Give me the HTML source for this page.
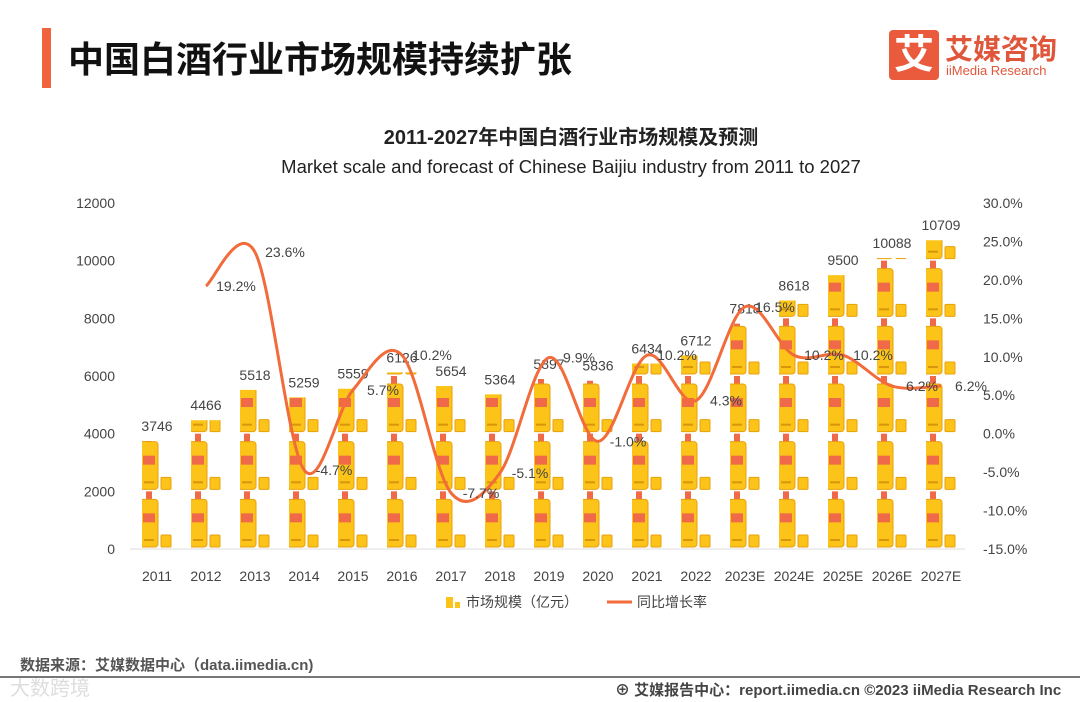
<!DOCTYPE html>
<html><head><meta charset="utf-8"><style>
body{margin:0;width:1080px;height:702px;background:#fff;overflow:hidden;font-family:"Liberation Sans","Noto Sans CJK SC",sans-serif;position:relative}
.abs{position:absolute}
</style></head><body>
<div class="abs" style="left:42px;top:28px;width:9px;height:60px;background:#f0643c"></div>
<div class="abs" style="left:68px;top:31px;font-size:36px;font-weight:bold;color:#111">中国白酒行业市场规模持续扩张</div>
<div class="abs" style="left:889px;top:30px;width:50px;height:50px;background:#ea5a3c;border-radius:4px;color:#fff;font-size:40px;font-weight:bold;text-align:center;line-height:50px">艾</div>
<div class="abs" style="left:945px;top:28px;font-size:28px;font-weight:bold;color:#e0563a">艾媒咨询</div>
<div class="abs" style="left:946px;top:63px;font-size:13px;color:#e0563a">iiMedia Research</div>
<div class="abs" style="left:0;width:1142px;top:121px;text-align:center;font-size:20px;font-weight:bold;color:#222">2011-2027年中国白酒行业市场规模及预测</div>
<div class="abs" style="left:0;width:1142px;top:156px;text-align:center;font-size:18.5px;color:#222">Market scale and forecast of Chinese Baijiu industry from 2011 to 2027</div>
<svg class="abs" style="left:0;top:0" width="1080" height="702">
<g id="g"></g>
</svg>
<div class="abs" style="left:20px;top:654px;font-size:15px;font-weight:bold;color:#555">数据来源：艾媒数据中心（data.iimedia.cn)</div>
<div class="abs" style="left:0;top:676px;width:1080px;height:2px;background:#777"></div>
<div class="abs" style="left:10px;top:672px;font-size:20px;color:#ddd">大数跨境</div>
<div class="abs" style="left:615px;top:679px;font-size:15px;font-weight:bold;color:#444;white-space:nowrap">⊕ 艾媒报告中心：report.iimedia.cn  ©2023  iiMedia Research  Inc</div>
<script>
const categories=["2011","2012","2013","2014","2015","2016","2017","2018","2019","2020","2021","2022","2023E","2024E","2025E","2026E","2027E"];
const marketSize=[3746,4466,5518,5259,5559,6126,5654,5364,5897,5836,6434,6712,7818,8618,9500,10088,10709];
const growth=[null,19.2,23.6,-4.7,5.7,10.2,-7.7,-5.1,9.9,-1.0,10.2,4.3,16.5,10.2,10.2,6.2,6.2];
const leftTicks=[0,2000,4000,6000,8000,10000,12000];
const rightTicks=[-15,-10,-5,0,5,10,15,20,25,30];
const NS="http://www.w3.org/2000/svg",g=document.getElementById('g');
const x=i=>157+i*49, yL=v=>549-v*(346/12000), yR=p=>549-(p+15)*(346/45);
function el(t,a,p){const e=document.createElementNS(NS,t);for(const k in a)e.setAttribute(k,a[k]);(p||g).appendChild(e);return e;}
el('line',{x1:130,x2:965,y1:549,y2:549,stroke:'#ddd'});
leftTicks.forEach(v=>{const t=el('text',{x:115,y:yL(v)+5,'text-anchor':'end','font-size':14,fill:'#444'});t.textContent=v;});
rightTicks.forEach(v=>{const t=el('text',{x:983,y:yR(v)+5,'font-size':14,fill:'#444'});t.textContent=v.toFixed(1)+'%';});
categories.forEach((c,i)=>{const t=el('text',{x:x(i),y:581,'text-anchor':'middle','font-size':14,fill:'#444'});t.textContent=c;});
const defs=el('defs',{});
const tileH=2000*(346/12000);
marketSize.forEach((v,i)=>{
 const cp=el('clipPath',{id:'c'+i},defs);
 el('rect',{x:x(i)-15,y:yL(v),width:40,height:549-yL(v)},cp);
 const bg=el('g',{'clip-path':'url(#c'+i+')'});
 
 
 const cx=x(i)-8;
 for(let k=0;k*2000<v;k++){
  const b=549-k*tileH;
  el('rect',{x:cx-3,y:b-tileH,width:6,height:10,fill:'#f06a4a'},bg);
  el('rect',{x:cx-9,y:b-tileH+8,width:18,height:tileH-10,rx:3,fill:'#fcc419',stroke:'#e8a10e','stroke-width':1},bg);
  el('rect',{x:cx-6,y:b-tileH+22,width:12,height:9,fill:'#f06a4a'},bg);
  el('rect',{x:cx-5,y:b-10,width:10,height:2,fill:'#d9950c'},bg);
  el('rect',{x:cx+12,y:b-14,width:10,height:12,rx:1,fill:'#fcc419',stroke:'#e8a10e','stroke-width':1},bg);
 }
 const t=el('text',{x:x(i),y:yL(v)-10,'text-anchor':'middle','font-size':14,fill:'#444'});t.textContent=v;
 
});
const pts=[];growth.forEach((p,i)=>{if(p!==null)pts.push([x(i),yR(p)]);});
let d='M'+pts[0][0]+','+pts[0][1];
for(let i=0;i<pts.length-1;i++){const p0=pts[Math.max(0,i-1)],p1=pts[i],p2=pts[i+1],p3=pts[Math.min(pts.length-1,i+2)];
 d+=` C${p1[0]+(p2[0]-p0[0])/6},${p1[1]+(p2[1]-p0[1])/6} ${p2[0]-(p3[0]-p1[0])/6},${p2[1]-(p3[1]-p1[1])/6} ${p2[0]},${p2[1]}`;}
const ln=el('path',{d:d,fill:'none',stroke:'#f26b3a','stroke-width':3});

growth.forEach((p,i)=>{if(p===null)return;const t=el('text',{x:x(i)+30,y:yR(p)+5,'text-anchor':'middle','font-size':14,fill:'#444'});t.textContent=p.toFixed(1)+'%';
 });
const lg=el('g',{});
el('rect',{x:446,y:597,width:7,height:11,fill:'#fcc419'},lg);el('rect',{x:455,y:602,width:5,height:6,fill:'#fcc419'},lg);
let t=el('text',{x:466,y:607,'font-size':14,fill:'#444'},lg);t.textContent='市场规模（亿元）';
el('line',{x1:607,x2:632,y1:602,y2:602,stroke:'#f26b3a','stroke-width':3},lg);
t=el('text',{x:637,y:607,'font-size':14,fill:'#444'},lg);t.textContent='同比增长率';
</script>
</body></html>
